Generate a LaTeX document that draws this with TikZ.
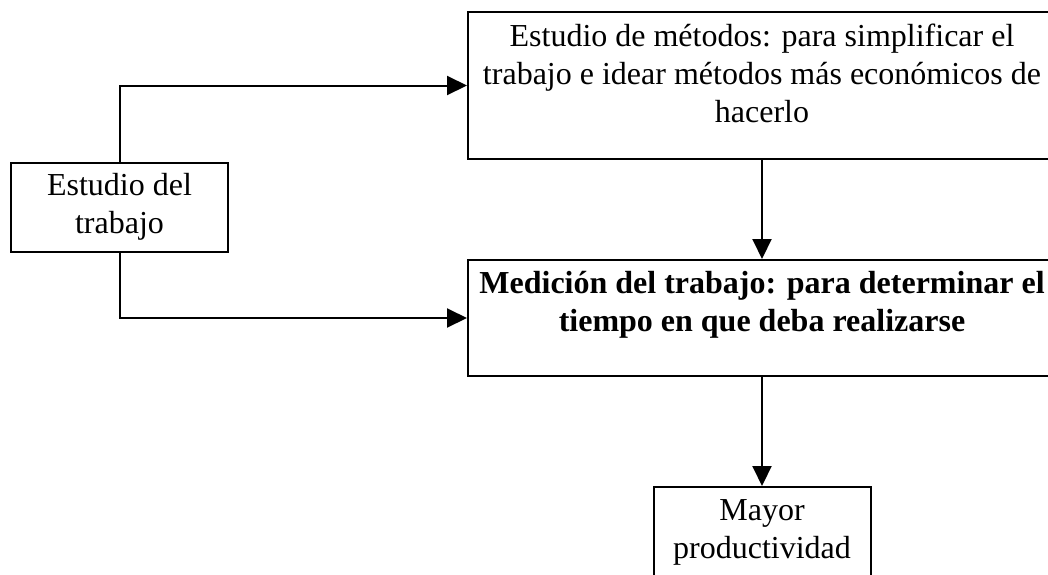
\documentclass[tikz,border=0pt]{standalone}
\usepackage{fontspec}
\setmainfont{Liberation Serif}
\usetikzlibrary{arrows.meta}
\begin{document}
\begin{tikzpicture}[x=1pt,y=-1pt,
  box/.style={draw, line width=2pt, inner sep=0pt},
  txt/.style={inner sep=0pt, anchor=north, align=center, font=\fontsize{32}{38}\selectfont},
  conn/.style={line width=2pt, -{Triangle[length=20pt,width=19pt]}}]
\clip (0,0) rectangle (1048,574);
\fill[white] (0,0) rectangle (1048,574);
% boxes
\node[box, minimum width=217pt, minimum height=89pt] (left) at (119.5,207.5) {};
\node[box, minimum width=588pt, minimum height=147pt] (top) at (762,85.5) {};
\node[box, minimum width=588pt, minimum height=116pt] (mid) at (762,318) {};
\node[box, minimum width=217pt, minimum height=133pt] (bot) at (762,553.5) {};
% texts
\node[txt] (lefttxt) at (119.5,170) {\rule{0pt}{25pt}Estudio del\\trabajo};
\node[txt] (toptxt) at (762,21) {\rule{0pt}{25pt}Estudio de métodos: para simplificar el\\trabajo e idear métodos más económicos de\\hacerlo};
\node[txt, font=\fontsize{32}{38}\selectfont\bfseries] (midtxt) at (762,268) {\rule{0pt}{25pt}Medición del trabajo: para determinar el\\tiempo en que deba realizarse};
\node[txt] (bottxt) at (762,495) {\rule{0pt}{25pt}Mayor\\productividad};
% connectors
\draw[conn] (left.north) |- (top.west);
\draw[conn] (left.south) |- (mid.west);
\draw[conn] (top.south) -- (mid.north);
\draw[conn] (mid.south) -- (bot.north);
\end{tikzpicture}
\end{document}
